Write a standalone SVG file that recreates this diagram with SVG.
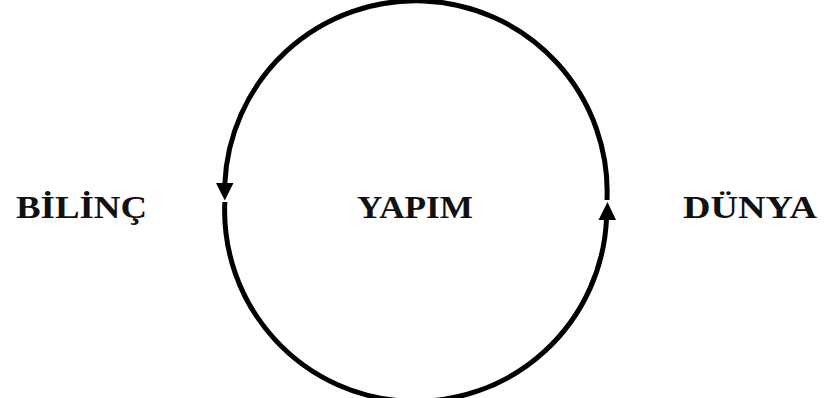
<svg xmlns="http://www.w3.org/2000/svg" width="827" height="398" viewBox="0 0 827 398">
<style>
.arc{fill:none;stroke:#000;stroke-width:5}
.head{fill:#000}
.lbl{font-family:"Liberation Serif","Times New Roman",serif;font-weight:bold;font-size:31px;fill:#111}
</style>
<rect width="827" height="398" fill="#fff"/>
<g id="connectors">
<path class="arc" d="M607,200 A191,191 0 0 0 224.8,184"/>
<polygon class="head" points="216,183 233.5,183 224.8,200.5"/>
<path class="arc" d="M224.8,202 A191,191 0 0 0 606.5,219"/>
<polygon class="head" points="607.5,202 598.5,220 616,220"/>
</g>
<g id="bilinc"><text class="lbl" x="16" y="218" textLength="131" lengthAdjust="spacingAndGlyphs">BİLİNÇ</text></g>
<g id="yapim"><text class="lbl" x="357" y="218" textLength="116" lengthAdjust="spacingAndGlyphs">YAPIM</text></g>
<g id="dunya"><text class="lbl" x="683" y="218" textLength="134" lengthAdjust="spacingAndGlyphs">DÜNYA</text></g>
</svg>
